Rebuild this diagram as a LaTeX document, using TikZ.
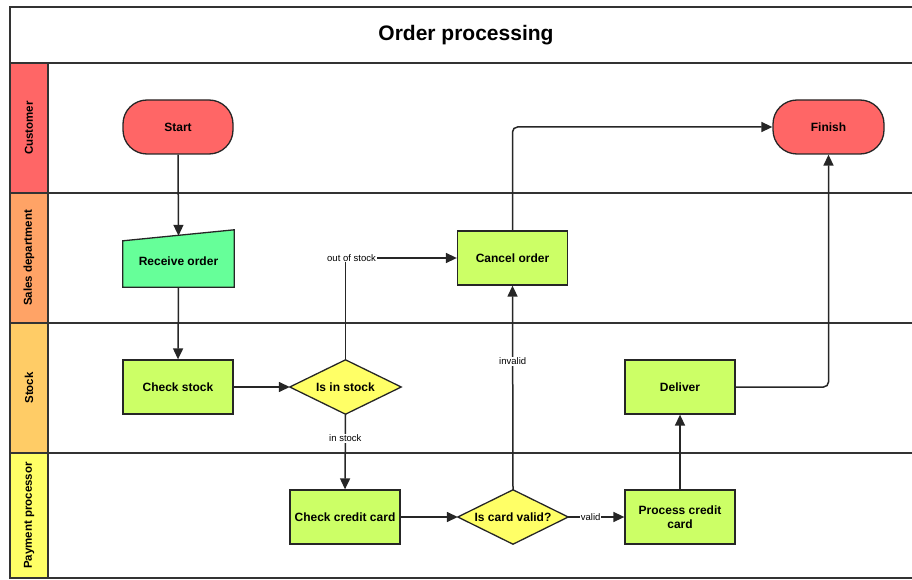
\documentclass[tikz,border=0pt]{standalone}
\usepackage{fontspec}
\setmainfont{Liberation Sans}
\usetikzlibrary{arrows.meta,calc}
\definecolor{custred}{HTML}{FF6666}
\definecolor{salesor}{HTML}{FFA366}
\definecolor{stockor}{HTML}{FFCC66}
\definecolor{payyel}{HTML}{FFFF66}
\definecolor{mint}{HTML}{66FF99}
\definecolor{boxgreen}{HTML}{CCFF66}
\definecolor{diayel}{HTML}{FFFF66}
\begin{document}
\begin{tikzpicture}[x=1pt,y=-1pt,
  frame/.style={draw=black!80, line width=1.6pt},
  lanelab/.style={rotate=90, draw=black!80, line width=1.4pt, minimum width=130pt, minimum height=38pt, inner sep=0pt, font=\fontsize{11.5}{13}\selectfont\bfseries},
  nodefont/.style={font=\fontsize{12}{14}\selectfont\bfseries},
  box/.style={draw=black!85, line width=1.3pt, fill=boxgreen, minimum width=110pt, minimum height=54pt, inner sep=1pt, align=center, nodefont},
  term/.style={box, fill=custred, rounded corners=24pt},
  ghost/.style={minimum width=110pt, minimum height=54pt, inner sep=0pt, align=center, nodefont},
  arr/.style={draw=black!85, line width=1.5pt, -{Triangle[length=11pt,width=10pt]}},
  lbl/.style={fill=white, inner sep=1pt, font=\fontsize{9.5}{10}\selectfont}
]
\useasboundingbox (0,0) rectangle (912,580);
% frame and lanes
\draw[frame] (10,7) rectangle (916,578);
\draw[frame] (10,63) -- (916,63);
\node[font=\fontsize{21}{24}\selectfont\bfseries] (title) at (466,35) {Order processing};
\node[lanelab, fill=custred] (lcust) at (29,128) {Customer};
\node[lanelab, fill=salesor] (lsales) at (29,258) {Sales department};
\node[lanelab, fill=stockor] (lstock) at (29,388) {Stock};
\node[lanelab, fill=payyel, minimum width=125pt] (lpay) at (29,515.5) {Payment processor};
\draw[frame] (48,193) -- (916,193);
\draw[frame] (48,323) -- (916,323);
\draw[frame] (48,453) -- (916,453);
% nodes
\node[term] (start) at (178,127) {Start};
\node[term, minimum width=111pt] (finish) at (828.5,127) {Finish};
\node[ghost, minimum width=111pt, minimum height=57pt] (recv) at (178.5,258.5) {};
\filldraw[draw=black!85, line width=1.3pt, fill=mint] (recv.south west) -- (recv.south east) -- (recv.north east) -- ($(recv.north west)+(0,11)$) -- cycle;
\node[ghost] at ($(recv.center)+(0,3)$) {Receive order};
\node[box] (chk) at (178,387) {Check stock};
\node[ghost, minimum width=111pt] (instock) at (345.5,387) {};
\filldraw[draw=black!85, line width=1.3pt, fill=diayel] (instock.north) -- (instock.east) -- (instock.south) -- (instock.west) -- cycle;
\node[ghost] at (instock.center) {Is in stock};
\node[box] (cancel) at (512.5,258) {Cancel order};
\node[box] (deliver) at (680,387) {Deliver};
\node[box] (ccard) at (345,517) {Check credit card};
\node[ghost, minimum width=110pt] (valid) at (513,517) {};
\filldraw[draw=black!85, line width=1.3pt, fill=diayel] (valid.north) -- (valid.east) -- (valid.south) -- (valid.west) -- cycle;
\node[ghost] at (valid.center) {Is card valid?};
\node[box] (proc) at (680,517) {Process credit\\card};
% connectors
\draw[arr] (start.south) -- ($(recv.north)+(0,6)$);
\draw[arr] (recv.south) -- (chk.north);
\draw[arr] (chk.east) -- (instock.west);
\draw[arr] (instock.north) |- node[lbl, pos=0.5, xshift=6pt]{out of stock} (cancel.west);
\draw[arr] (instock.south) -- node[lbl, pos=0.32]{in stock} (ccard.north);
\draw[arr] (ccard.east) -- (valid.west);
\draw[arr] (valid.east) -- node[lbl, pos=0.4]{valid} (proc.west);
\draw[arr] (valid.north) -- node[lbl, pos=0.63]{invalid} (cancel.south);
\draw[arr, rounded corners=5pt] (cancel.north) |- (finish.west);
\draw[arr] (proc.north) -- (deliver.south);
\draw[arr, rounded corners=5pt] (deliver.east) -| (finish.south);
\end{tikzpicture}
\end{document}
